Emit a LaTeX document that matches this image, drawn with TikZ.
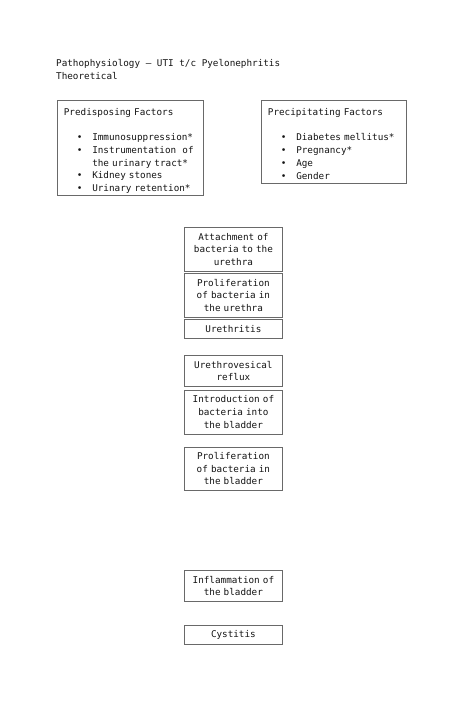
\documentclass[tikz,border=0pt]{standalone}
\usepackage{fontspec}
\setmainfont{DejaVu Sans Mono}
\setmonofont{DejaVu Sans Mono}
\definecolor{boxgray}{RGB}{105,105,105}
\definecolor{txt}{RGB}{20,20,20}
\newcommand\bitem[1]{\hspace*{13pt}\makebox[15.4pt][l]{•}#1}
\newcommand\bcont[1]{\hspace*{28.4pt}#1}
\begin{document}
\begin{tikzpicture}[x=1pt,y=-1pt,
  every node/.style={font=\ttfamily\fontsize{9.3}{12.7}\selectfont, text=txt},
  flowbox/.style={draw=boxgray, line width=0.8pt, anchor=north west, minimum width=98pt, text width=92pt, inner xsep=3pt, inner ysep=0pt, align=center},
  factorbox/.style={draw=boxgray, line width=0.8pt, anchor=north west, inner xsep=6.5pt, inner ysep=0pt, align=left},
  titletext/.style={anchor=north west, align=left, inner sep=0pt}
]
\useasboundingbox (0,0) rectangle (474,725);

\node[titletext] (title) at (56,59.5) {Pathophysiology – UTI t/c Pyelonephritis\\Theoretical};

\node[factorbox, text width=133pt, minimum height=95pt] (pre) at (57,100)
 {\rule{0pt}{13pt}Predisposing Factors\\
  \strut\\
  \bitem{Immunosuppression*}\\
  \bitem{Instrumentation~~of}\\
  \bcont{the urinary tract*}\\
  \bitem{Kidney stones}\\
  \bitem{Urinary retention*}};

\node[factorbox, text width=132pt, minimum height=83pt] (prec) at (261,100)
 {\rule{0pt}{11pt}Precipitating Factors\\
  \strut\\
  \bitem{Diabetes mellitus*}\\
  \bitem{Pregnancy*}\\
  \bitem{Age}\\
  \bitem{Gender}};

\node[flowbox, minimum height=44pt] (att) at (184,227) {Attachment of\\bacteria to the\\urethra};
\node[flowbox, minimum height=44pt] (prou) at (184,273) {Proliferation\\of bacteria in\\the urethra};
\node[flowbox, minimum height=19pt] (ureth) at (184,319) {Urethritis};
\node[flowbox, minimum height=31pt] (reflux) at (184,355) {Urethrovesical\\reflux};
\node[flowbox, minimum height=43.5pt] (intro) at (184,390) {Introduction of\\bacteria into\\the bladder};
\node[flowbox, minimum height=43.5pt] (prob) at (184,446.5) {Proliferation\\of bacteria in\\the bladder};
\node[flowbox, minimum height=31pt] (infl) at (184,570) {Inflammation of\\the bladder};
\node[flowbox, minimum height=18.5pt] (cyst) at (184,625) {Cystitis};
\end{tikzpicture}
\end{document}
